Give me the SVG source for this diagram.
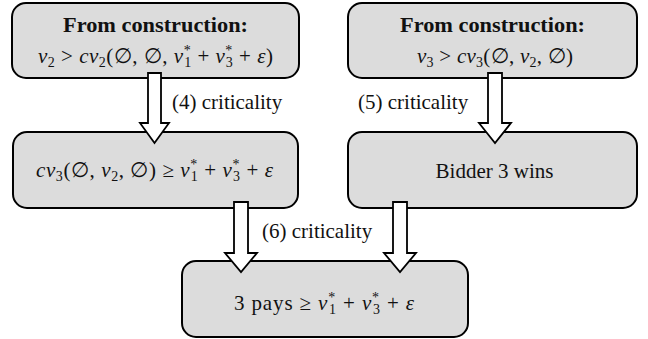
<svg xmlns="http://www.w3.org/2000/svg" width="648" height="339" viewBox="0 0 648 339">
<style>
text, tspan{font-family:'Liberation Serif', 'Times New Roman', 'DejaVu Serif', serif;font-size:21px;fill:#111}
.box{fill:#dcdcdc;stroke:#000;stroke-width:2}
.arr{fill:#fff;stroke:#000;stroke-width:1.8;stroke-linejoin:miter}
.b{font-weight:bold}
.i{font-style:italic}
text .s{font-size:14px}
</style>
<rect width="648" height="339" fill="#fff"/>
<g id="n1">
<rect class="box" x="12" y="3" width="287" height="75" rx="14"/>
<text class="b" x="155.5" y="32" text-anchor="middle" textLength="185" lengthAdjust="spacingAndGlyphs">From construction:</text>
<text x="155.5" y="63" text-anchor="middle" textLength="235"><tspan class="i">v</tspan><tspan class="s" dy="4">2</tspan><tspan dy="-4"> &gt; </tspan><tspan class="i">cv</tspan><tspan class="s" dy="4">2</tspan><tspan dy="-4">(∅, ∅, </tspan><tspan class="i">v</tspan><tspan class="s" dy="-8">*</tspan><tspan class="s" dx="-7" dy="12">1</tspan><tspan dy="-4"> + </tspan><tspan class="i">v</tspan><tspan class="s" dy="-8">*</tspan><tspan class="s" dx="-7" dy="12">3</tspan><tspan dy="-4"> + </tspan><tspan class="i">ε</tspan><tspan>)</tspan></text>
</g>
<g id="n2">
<rect class="box" x="348" y="3" width="289" height="75" rx="14"/>
<text class="b" x="492.5" y="32" text-anchor="middle" textLength="185" lengthAdjust="spacingAndGlyphs">From construction:</text>
<text x="495" y="63" text-anchor="middle" textLength="156"><tspan class="i">v</tspan><tspan class="s" dy="4">3</tspan><tspan dy="-4"> &gt; </tspan><tspan class="i">cv</tspan><tspan class="s" dy="4">3</tspan><tspan dy="-4">(∅, </tspan><tspan class="i">v</tspan><tspan class="s" dy="4">2</tspan><tspan dy="-4">, ∅)</tspan></text>
</g>
<g id="n3">
<rect class="box" x="13" y="132" width="285" height="76" rx="14"/>
<text x="154.5" y="177" text-anchor="middle" textLength="237"><tspan class="i">cv</tspan><tspan class="s" dy="4">3</tspan><tspan dy="-4">(∅, </tspan><tspan class="i">v</tspan><tspan class="s" dy="4">2</tspan><tspan dy="-4">, ∅) ≥ </tspan><tspan class="i">v</tspan><tspan class="s" dy="-8">*</tspan><tspan class="s" dx="-7" dy="12">1</tspan><tspan dy="-4"> + </tspan><tspan class="i">v</tspan><tspan class="s" dy="-8">*</tspan><tspan class="s" dx="-7" dy="12">3</tspan><tspan dy="-4"> + </tspan><tspan class="i">ε</tspan></text>
</g>
<g id="n4">
<rect class="box" x="348" y="132" width="289" height="76" rx="14"/>
<text x="494.5" y="178" text-anchor="middle">Bidder 3 wins</text>
</g>
<g id="n5">
<rect class="box" x="182" y="261" width="286" height="76" rx="14"/>
<text x="324" y="310" text-anchor="middle" textLength="180"><tspan>3 pays ≥ </tspan><tspan class="i">v</tspan><tspan class="s" dy="-8">*</tspan><tspan class="s" dx="-7" dy="12">1</tspan><tspan dy="-4"> + </tspan><tspan class="i">v</tspan><tspan class="s" dy="-8">*</tspan><tspan class="s" dx="-7" dy="12">3</tspan><tspan dy="-4"> + </tspan><tspan class="i">ε</tspan></text>
</g>
<g id="connectors">
<polygon class="arr" points="148,73 161,73 161,123 169,123 154.5,143 140,123 148,123"/>
<polygon class="arr" points="488,73 502,73 502,123 511,123 495,143 479,123 488,123"/>
<polygon class="arr" points="234,202 248,202 248,253 257,253 241,272 225,253 234,253"/>
<polygon class="arr" points="393,202 407,202 407,253 416,253 400,272 384,253 393,253"/>
<text x="172" y="109">(4) criticality</text>
<text x="358" y="109">(5) criticality</text>
<text x="262" y="238">(6) criticality</text>
</g>
</svg>
